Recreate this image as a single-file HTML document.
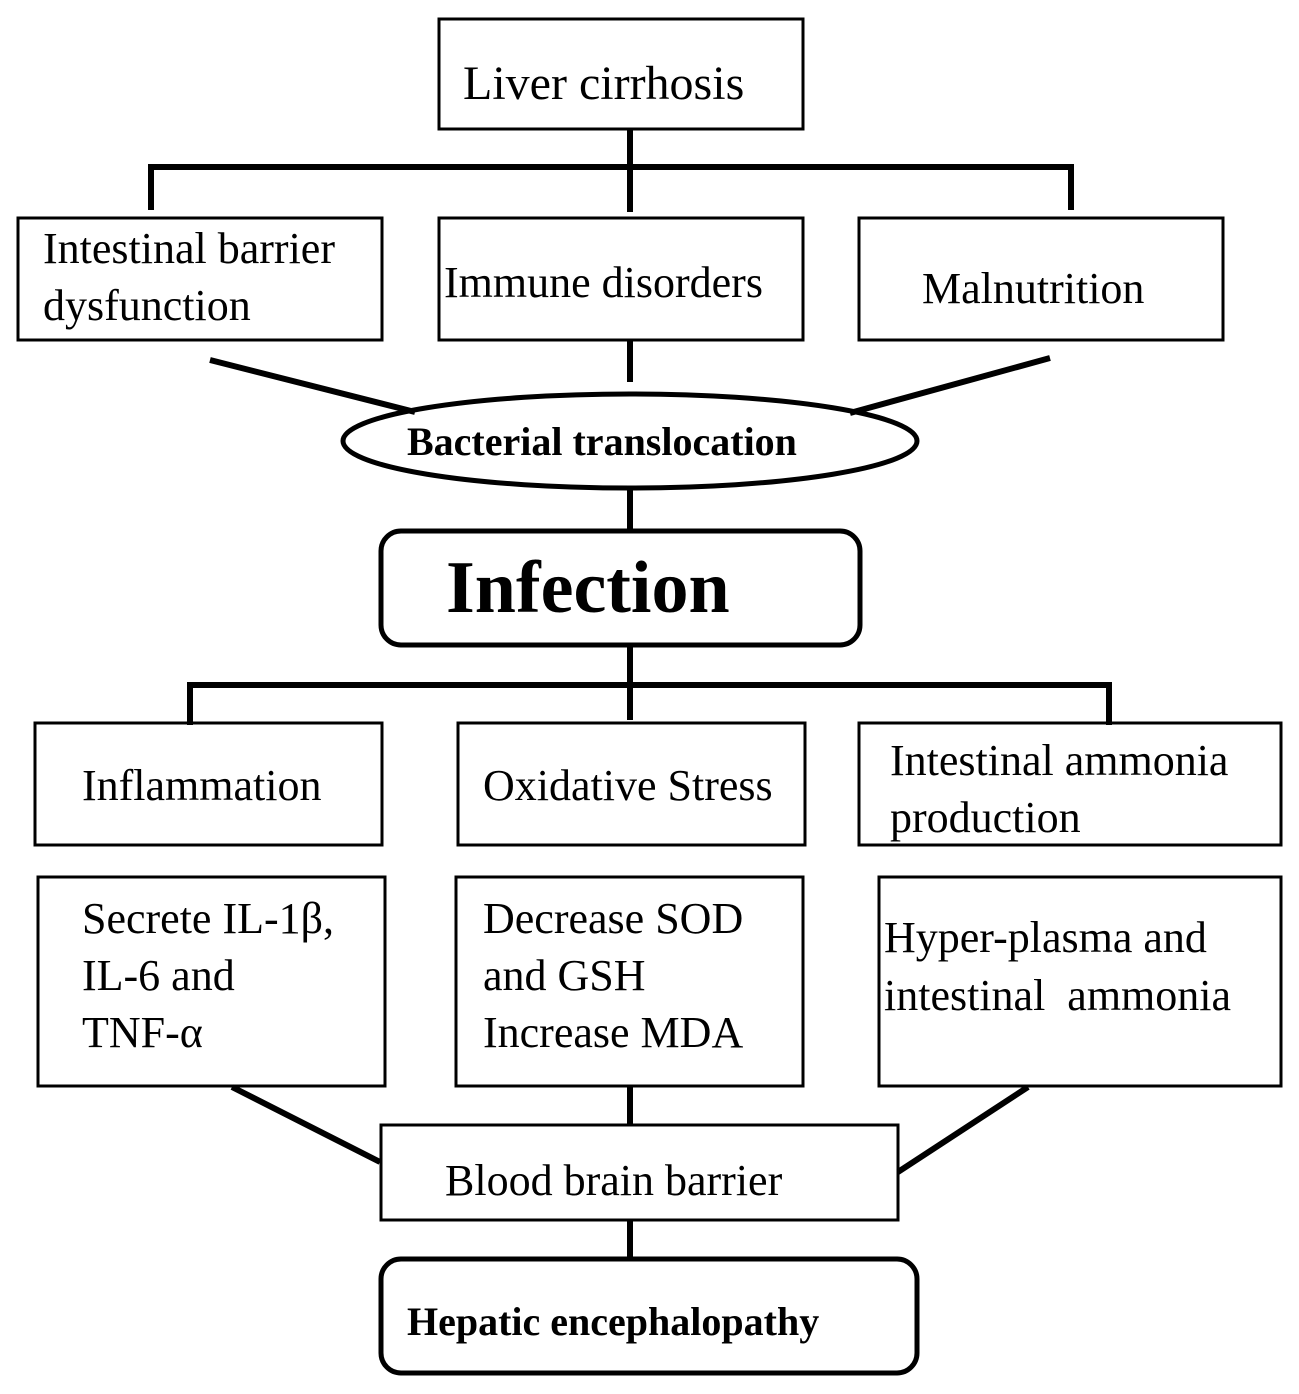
<!DOCTYPE html>
<html><head><meta charset="utf-8"><style>html,body{margin:0;padding:0;background:#fff}svg{display:block}</style></head>
<body>
<svg width="1299" height="1394" viewBox="0 0 1299 1394" xmlns="http://www.w3.org/2000/svg" font-family="'Liberation Serif', serif" fill="#000">
<g fill="none" stroke="#000" stroke-width="3">
<rect x="439" y="19" width="364" height="110"/>
<rect x="18" y="218" width="364" height="122"/>
<rect x="439" y="218" width="364" height="122"/>
<rect x="859" y="218" width="364" height="122"/>
<rect x="35" y="723" width="347" height="122"/>
<rect x="458" y="723" width="347" height="122"/>
<rect x="859" y="723" width="422" height="122"/>
<rect x="38" y="877" width="347" height="209"/>
<rect x="456" y="877" width="347" height="209"/>
<rect x="879" y="877" width="402" height="209"/>
<rect x="381" y="1125" width="517" height="95"/>
</g>
<g fill="none" stroke="#000" stroke-width="6">
<path d="M630 129V212M151 210V167H1071V210M630 340V382M210 360L415 412M1050 358L850 413M630 490V530M630 645V720M190 725V685H1109V725M630 1086V1125M232 1087L380 1162M1028 1087L898 1172M630 1220V1260"/>
<ellipse cx="630" cy="441" rx="287" ry="47" stroke-width="5"/>
<rect x="381" y="531" width="479" height="114" rx="20" stroke-width="5"/>
<rect x="381" y="1259" width="536" height="114" rx="20" stroke-width="5"/>
</g>
<g font-size="44">
<text x="463" y="99" font-size="48">Liver cirrhosis</text>
<text x="43" y="263">Intestinal barrier</text>
<text x="43" y="320">dysfunction</text>
<text x="444" y="297">Immune disorders</text>
<text x="922" y="303">Malnutrition</text>
<text x="82" y="800">Inflammation</text>
<text x="483" y="800">Oxidative Stress</text>
<text x="890" y="775">Intestinal ammonia</text>
<text x="890" y="832">production</text>
<text x="82" y="933">Secrete IL-1β,</text>
<text x="82" y="990">IL-6 and</text>
<text x="82" y="1047">TNF-α</text>
<text x="483" y="933">Decrease SOD</text>
<text x="483" y="990">and GSH</text>
<text x="483" y="1047">Increase MDA</text>
<text x="884" y="952">Hyper-plasma and</text>
<text x="884" y="1010" xml:space="preserve">intestinal  ammonia</text>
<text x="445" y="1195">Blood brain barrier</text>
</g>
<text x="407" y="455" font-size="40" font-weight="bold">Bacterial translocation</text>
<text x="446" y="612" font-size="74" font-weight="bold">Infection</text>
<text x="407" y="1335" font-size="40" font-weight="bold">Hepatic encephalopathy</text>
</svg>
</body></html>
